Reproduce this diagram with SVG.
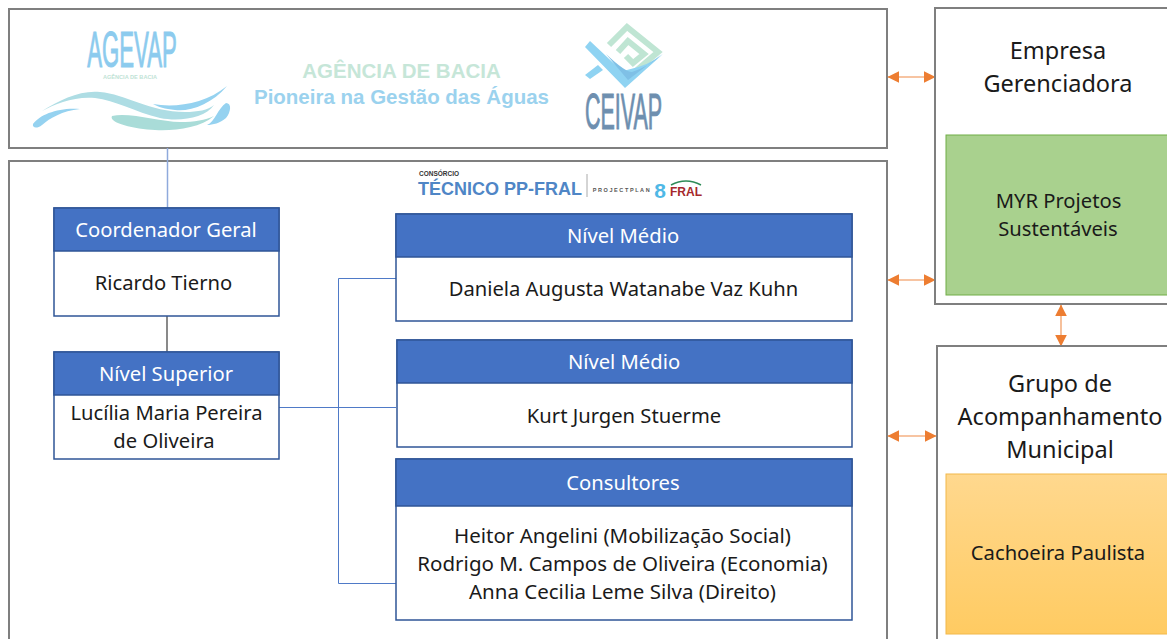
<svg xmlns="http://www.w3.org/2000/svg" width="1167" height="639" viewBox="0 0 1167 639">
<defs>
<marker id="oa" viewBox="0 0 10 10" refX="9.5" refY="5" markerUnits="userSpaceOnUse" markerWidth="12" markerHeight="12" orient="auto-start-reverse"><path d="M0,0 L10,5 L0,10 Z" fill="#ED7D31"/></marker>
<linearGradient id="gold" x1="0" y1="0" x2="0" y2="1"><stop offset="0" stop-color="#FFD88E"/><stop offset="1" stop-color="#FFCB62"/></linearGradient>
</defs>
<style>
text{font-family:"Noto Sans","Open Sans","Liberation Sans",sans-serif;text-anchor:middle;fill:#1a1a1a}
.frame{fill:#fff;stroke:#7f7f7f;stroke-width:2}
.head{fill:#4472C4;stroke:#2F5597;stroke-width:1.5}
.body{fill:#fff;stroke:#2F5597;stroke-width:1.5}
.ht{fill:#fff;font-size:20.2px}
.bt{font-size:20.2px}
.bt3{font-size:20.5px}
.bt2{font-size:23.5px}
.link{fill:none;stroke:#4F7AC7;stroke-width:1}
.pale{fill:none;stroke:#8FAADC;stroke-width:1.5}
.dark{fill:none;stroke:#3b3b3b;stroke-width:1.2}
.arrow{fill:none;stroke:#F4B183;stroke-width:1.6;marker-start:url(#oa);marker-end:url(#oa)}
.ar{font-family:"Liberation Sans",Arial,sans-serif;font-weight:700}
</style>
<g id="agency-frame"><rect class="frame" x="9" y="9" width="878" height="139"/></g>
<g id="consortium-frame"><rect class="frame" x="9" y="161" width="878" height="490"/></g>
<g id="agevap-logo">
<text x="132" y="67" transform="translate(132 0) scale(.444 1) translate(-132 0)" style="font-family:'Liberation Sans',sans-serif;font-size:50px;fill:#8CCBEE;stroke:#8CCBEE;stroke-width:1">AGEVAP</text>
<text class="ar" x="130" y="79" style="font-size:5.6px;fill:#BFE3D6">AGÊNCIA DE BACIA</text>
<path d="M42,111 C60,100 80,90 100,92 C125,94 150,112 185,112 C198,112 208,110 214,105 C205,118 180,122 160,118 C135,112 115,100 95,98 C75,96 55,104 42,111Z" fill="#AEDDE4"/>
<path d="M153,104 C175,108 205,104 227,86 C212,104 190,112 175,110 C165,109 158,107 153,104Z" fill="#95D2F0"/>
<path d="M112,116 C130,112 160,122 180,122 C195,122 205,120 214,116 C200,128 175,131 155,130 C135,129 108,123 112,116Z" fill="#A9DCD8"/>
<path d="M33,124 C40,114 60,107 80,109 C62,111 50,118 42,125 C37,129 32,128 33,124Z" fill="#95D2F0"/>
<path d="M207,125 C215,122 218,108 226,103 C232,103 231,112 226,118 C220,123 213,125 207,125Z" fill="#95D2F0"/>
</g>
<g id="agency-title">
<text class="ar" x="401.500" y="78" style="font-size:20.500px;fill:#C6E6D8">AGÊNCIA DE BACIA</text>
<text class="ar" x="401.500" y="104" style="font-size:20.500px;fill:#9BD2EE">Pioneira na Gestão das Águas</text>
</g>
<g id="ceivap-logo">
<path d="M609,45 L627,27 L658,52 L637,70 M618,52 L628,41 L644,54 L633,63 L626,56" fill="none" stroke="#BFE5D3" stroke-width="6"/>
<path d="M585,47 L590,41 L606,56 Q622,72 627,70 Q650,65 663,54 L625,88Z" fill="#8FD3F2"/>
<path d="M606,54 Q625,72 632,72 Q650,66 662,54 L628,80Z" fill="#7FC0E6"/>
<path d="M585,75 L598,65 L603,70 L590,79Z" fill="#8FD3F2"/>
<text x="623.500" y="129" transform="translate(623.500 0) scale(.43 1) translate(-623.500 0)" style="font-family:'Liberation Sans',sans-serif;font-size:50px;fill:#6E8FAF;stroke:#6E8FAF;stroke-width:1">CEIVAP</text>
</g>
<g id="consortium-logo">
<text class="ar" x="439" y="176" style="font-size:6.500px;fill:#333">CONSÓRCIO</text>
<text class="ar" x="500" y="195" style="font-size:18px;fill:#4F86C6">TÉCNICO PP-FRAL</text>
<path d="M587,174 V197" stroke="#aaa" stroke-width="1" fill="none"/>
<text class="ar" x="622" y="192" style="font-size:5.500px;letter-spacing:1.600px;fill:#555">PROJECTPLAN</text>
<text class="ar" x="660" y="198" style="font-size:21px;fill:#4FB8E6">8</text>
<text class="ar" x="686" y="196" style="font-size:12px;fill:#A5282C">FRAL</text>
<path d="M671,185 Q686,177 701,185" stroke="#2E8B57" stroke-width="1.500" fill="none"/>
</g>
<g id="connectors">
<path class="pale" d="M167.500,148 V208"/>
<path class="dark" d="M167,316 V352"/>
<path class="link" d="M279,407.500 H396"/>
<path class="link" d="M338.500,407 V278.500 H396"/>
<path class="link" d="M338.500,407 V583.500 H396"/>
<path class="arrow" d="M888,77 H935"/>
<path class="arrow" d="M888,280 H935"/>
<path class="arrow" d="M888,436 H936"/>
<path class="arrow" d="M1061,305 V346"/>
</g>
<g id="coordenador">
<rect class="body" x="54" y="208" width="225" height="108"/><rect class="head" x="54" y="208" width="225" height="43"/>
<text class="ht" x="166" y="237">Coordenador Geral</text>
<text class="bt" x="163.500" y="290">Ricardo Tierno</text>
</g>
<g id="nivel-superior">
<rect class="body" x="54" y="352" width="225" height="107"/><rect class="head" x="54" y="352" width="225" height="43"/>
<text class="ht" x="166" y="381">Nível Superior</text>
<text class="bt" x="166.500" y="420">Lucília Maria Pereira</text>
<text class="bt" x="164" y="448">de Oliveira</text>
</g>
<g id="nivel-medio-1">
<rect class="body" x="396" y="214" width="456" height="107"/><rect class="head" x="396" y="214" width="456" height="43"/>
<text class="ht" x="623" y="243">Nível Médio</text>
<text class="bt" x="623.500" y="296">Daniela Augusta Watanabe Vaz Kuhn</text>
</g>
<g id="nivel-medio-2">
<rect class="body" x="397" y="340" width="455" height="107"/><rect class="head" x="397" y="340" width="455" height="43"/>
<text class="ht" x="624" y="369">Nível Médio</text>
<text class="bt" x="624" y="423">Kurt Jurgen Stuerme</text>
</g>
<g id="consultores">
<rect class="body" x="396" y="459" width="456" height="161"/><rect class="head" x="396" y="459" width="456" height="47"/>
<text class="ht" x="623" y="490">Consultores</text>
<text class="bt3" x="622.500" y="543">Heitor Angelini (Mobilização Social)</text>
<text class="bt3" x="622.500" y="571">Rodrigo M. Campos de Oliveira (Economia)</text>
<text class="bt3" x="622.500" y="599">Anna Cecilia Leme Silva (Direito)</text>
</g>
<g id="empresa-gerenciadora">
<rect class="frame" x="935" y="8" width="250" height="296"/>
<text class="bt2" x="1058" y="59">Empresa</text>
<text class="bt2" x="1058" y="92">Gerenciadora</text>
<rect x="946" y="135" width="240" height="160" fill="#A9D18E" stroke="#70AD47" stroke-width="1"/>
<text class="bt" x="1058.500" y="208">MYR Projetos</text>
<text class="bt" x="1058" y="236">Sustentáveis</text>
</g>
<g id="grupo-acompanhamento">
<rect class="frame" x="937" y="346" width="250" height="310"/>
<text class="bt2" x="1060" y="392">Grupo de</text>
<text class="bt2" x="1060" y="425">Acompanhamento</text>
<text class="bt2" x="1060" y="458">Municipal</text>
<rect x="946" y="474" width="240" height="160" fill="url(#gold)" stroke="#F2B84B" stroke-width="1"/>
<text class="bt" x="1058" y="560">Cachoeira Paulista</text>
</g>
</svg>
